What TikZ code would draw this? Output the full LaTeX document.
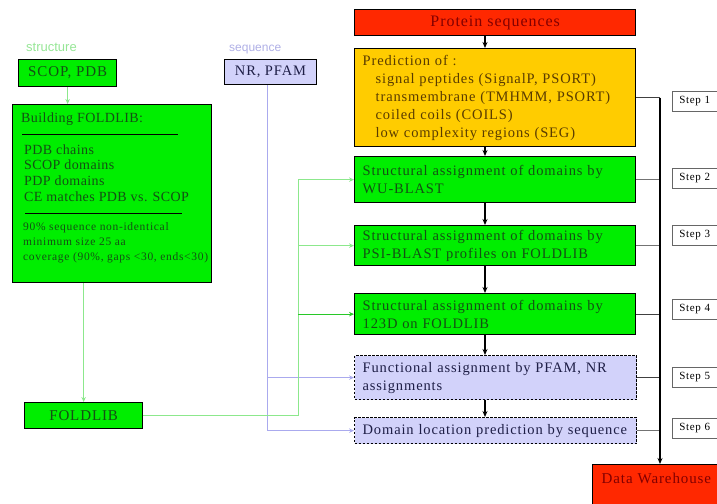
\documentclass[tikz,border=0pt]{standalone}
\usepackage{fontspec}
\setmainfont{Liberation Serif}
\newfontfamily\lsans{Liberation Sans}
\newfontfamily\wserif[LetterSpace=6]{Liberation Serif}
\newfontfamily\mserif[LetterSpace=3]{Liberation Serif}
\usetikzlibrary{arrows.meta}
\definecolor{gfill}{RGB}{0,238,0}
\definecolor{gtext}{RGB}{20,80,20}
\definecolor{ofill}{RGB}{255,204,0}
\definecolor{otext}{RGB}{90,60,0}
\definecolor{rfill}{RGB}{255,40,0}
\definecolor{rtext}{RGB}{130,0,0}
\definecolor{lfill}{RGB}{210,210,250}
\definecolor{ltext}{RGB}{30,30,70}
\definecolor{lline}{RGB}{170,170,238}
\definecolor{llabel}{RGB}{175,175,230}
\definecolor{gline}{RGB}{140,232,140}
\definecolor{gline2}{RGB}{40,200,40}
\definecolor{glabel}{RGB}{150,230,150}
\begin{document}
\begin{tikzpicture}[x=1pt,y=-1pt,
  box/.style={draw=black, line width=1.3pt, anchor=north west, inner sep=0pt, align=left},
  mainfont/.style={font=\wserif\fontsize{14.5}{18}\selectfont},
  gbox/.style={box, fill=gfill, text=gtext, mainfont},
  lbox/.style={box, fill=lfill, text=ltext, mainfont, dashed, dash pattern=on 2.5pt off 1.5pt},
  stepbox/.style={draw=black!60, line width=0.6pt, fill=white, anchor=north west, inner sep=0pt,
     minimum width=60pt, minimum height=20pt, text width=46pt, align=left, font=\wserif\fontsize{11}{12}\selectfont},
  blk/.style={line width=1.1pt, -{Stealth[length=6pt,width=5pt]}},
  busline/.style={line width=0.9pt, black!75},
  gl/.style={line width=0.9pt, gline, -{Stealth[length=5pt,width=4.5pt]}},
  lv/.style={line width=0.9pt, lline, -{Stealth[length=5pt,width=4.5pt]}},
  smalltxt/.style={anchor=base west, text=gtext, inner sep=0pt, font=\wserif\fontsize{11.5}{12}\selectfont},
  midtxt/.style={anchor=base west, text=gtext, inner sep=0pt, font=\mserif\fontsize{14}{16}\selectfont}]
\useasboundingbox (0,0) rectangle (717,503);
\coordinate (ax) at (485,0);
\coordinate (bus) at (660,0);
\coordinate (gx) at (298,0);
\coordinate (lx) at (267,0);

% ---- right column
\node[box, fill=rfill, text=rtext, minimum width=281pt, minimum height=26pt, align=center,
  font=\wserif\fontsize{16}{18}\selectfont] (prot) at (354,9) {Protein sequences};
\node[box, fill=ofill, text=otext, mainfont, minimum width=281pt, minimum height=98pt, text width=265pt]
  (pred) at (354,48) {Prediction of :\\
  \hspace*{13pt}signal peptides (SignalP, PSORT)\\
  \hspace*{13pt}transmembrane (TMHMM, PSORT)\\
  \hspace*{13pt}coiled coils (COILS)\\
  \hspace*{13pt}low complexity regions (SEG)};
\node[gbox, minimum width=281pt, minimum height=46pt, text width=265pt] (b1) at (354,156)
  {Structural assignment of domains by\\WU-BLAST};
\node[gbox, minimum width=281pt, minimum height=40pt, text width=265pt] (b2) at (354,225)
  {Structural assignment of domains by\\PSI-BLAST profiles on FOLDLIB};
\node[gbox, minimum width=281pt, minimum height=41pt, text width=265pt] (b3) at (354,293)
  {Structural assignment of domains by\\123D on FOLDLIB};
\node[lbox, minimum width=282pt, minimum height=44pt, text width=266pt] (fa) at (354,355)
  {Functional assignment by PFAM, NR\\assignments};
\node[lbox, minimum width=282pt, minimum height=26pt, text width=266pt] (dl) at (354,417)
  {Domain location prediction by sequence};
\node[box, fill=rfill, text=rtext, inner xsep=9pt, inner ysep=8pt, text height=11pt, text depth=30pt,
  text width=122pt, font=\wserif\fontsize{15}{17}\selectfont] (dw) at (592,464) {Data Warehouse};

% step boxes
\node[stepbox] (s1) at (672,91) {Step 1};
\node[stepbox] (s2) at (672,168) {Step 2};
\node[stepbox] (s3) at (672,225) {Step 3};
\node[stepbox] (s4) at (672,299) {Step 4};
\node[stepbox] (s5) at (672,367) {Step 5};
\node[stepbox] (s6) at (672,418) {Step 6};

% vertical arrows
\draw[blk] (prot.south -| ax) -- (pred.north -| ax);
\draw[blk] (pred.south -| ax) -- (b1.north -| ax);
\draw[blk] (b1.south -| ax) -- (b2.north -| ax);
\draw[blk] (b2.south -| ax) -- (b3.north -| ax);
\draw[blk] (b3.south -| ax) -- (fa.north -| ax);
\draw[blk] (fa.south -| ax) -- (dl.north -| ax);

% bus to data warehouse
\draw[busline] (pred.east) -- (pred.east -| bus);
\draw[busline, black!55] (b1.east) -- (b1.east -| bus);
\draw[busline, black!55] (b2.east) -- (b2.east -| bus);
\draw[busline] (b3.east) -- (b3.east -| bus);
\draw[busline] (fa.east) -- (fa.east -| bus);
\draw[busline, black!55] (dl.east) -- (dl.east -| bus);
\draw[blk] (pred.east -| bus) -- (dw.north -| bus);

% ---- left side
\node[anchor=base west, inner sep=0pt, text=glabel, font=\lsans\fontsize{13}{15}\selectfont] (lblS) at (26,52) {structure};
\node[anchor=base west, inner sep=0pt, text=llabel, font=\lsans\fontsize{12}{14}\selectfont] (lblQ) at (229,52) {sequence};
\node[box, fill=gfill, text=gtext, minimum width=98pt, minimum height=27pt, align=center,
  font=\wserif\fontsize{15}{17}\selectfont] (scop) at (18,59) {SCOP, PDB};
\node[box, fill=lfill, text=ltext, line width=1pt, minimum width=92pt, minimum height=25pt, align=center,
  font=\wserif\fontsize{14.5}{17}\selectfont] (nr) at (224,59) {NR, PFAM};
\node[box, fill=gfill, minimum width=199pt, minimum height=178pt] (build) at (12,104) {};
\node[midtxt] (t0) at (21,122) {Building FOLDLIB:};
\draw[line width=0.7pt] (22,134) -- (178,134);
\node[midtxt] (t1) at (24,154) {PDB chains};
\node[midtxt] (t2) at (24,169.5) {SCOP domains};
\node[midtxt] (t3) at (24,185) {PDP domains};
\node[midtxt] (t4) at (24,201) {CE matches PDB vs. SCOP};
\draw[line width=0.7pt] (25,213) -- (182,213);
\node[smalltxt] (u1) at (23,230) {90\% sequence non-identical};
\node[smalltxt] (u2) at (23,245) {minimum size 25 aa};
\node[smalltxt] (u3) at (23,260) {coverage (90\%, gaps <30, ends<30)};
\node[box, fill=gfill, text=gtext, minimum width=118pt, minimum height=26pt, align=center,
  font=\wserif\fontsize{15}{17}\selectfont] (foldlib) at (24,402) {FOLDLIB};

\draw[gl] (scop.south) -- (scop.south |- build.north);
\draw[gl] (foldlib.north |- build.south) -- (foldlib.north);

% feeds
\draw[lv, -] (nr.south -| lx) -- (lx |- dl.west);
\draw[lv] (lx |- fa.west) -- (fa.west);
\draw[lv] (lx |- dl.west) -- (dl.west);
\draw[gl, -] (foldlib.east) -| (gx |- b1.west);
\draw[gl] (gx |- b1.west) -- (b1.west);
\draw[gl] (gx |- b2.west) -- (b2.west);
\draw[gl, gline2] (gx |- b3.west) -- (b3.west);
\end{tikzpicture}
\end{document}
